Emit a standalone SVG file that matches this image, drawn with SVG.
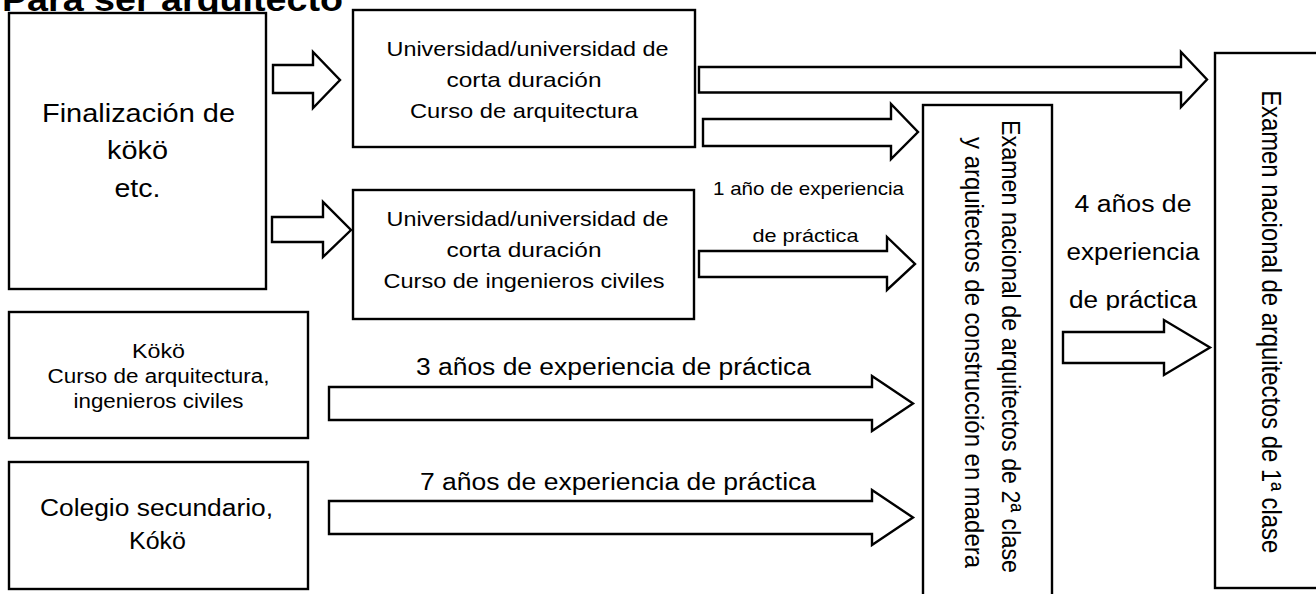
<svg xmlns="http://www.w3.org/2000/svg" width="1316" height="594" viewBox="0 0 1316 594">
<style>
.box{fill:#fff;stroke:#000;stroke-width:2.4}
.arr{fill:#fff;stroke:#000;stroke-width:2.4;stroke-linejoin:miter}
text{font-family:"Liberation Sans",Arial,sans-serif;fill:#000}
.c{text-anchor:middle}
</style>
<defs>
<clipPath id="clip4"><rect x="1040" y="180" width="200" height="130.5"/></clipPath>
</defs>
<rect width="1316" height="594" fill="#fff"/>
<text x="2" y="11" font-size="34" font-weight="bold" textLength="341" lengthAdjust="spacingAndGlyphs">Para ser arquitecto</text>

<g id="connectors">
<polygon class="arr" points="273,65 313,65 313,52 340,80 313,108 313,93 273,93"/>
<polygon class="arr" points="272,217 323,217 323,202 351,230 323,257 323,242 272,242"/>
<polygon class="arr" points="699,67 1181,67 1181,52 1207,79.5 1181,107 1181,92.5 699,92.5"/>
<polygon class="arr" points="703,119 891,119 891,104 918,132 891,159 891,146 703,146"/>
<polygon class="arr" points="699,251 887,251 887,237 915,264 887,290 887,277 699,277"/>
<polygon class="arr" points="329,387 872,387 872,376 913,403.5 872,431 872,420 329,420"/>
<polygon class="arr" points="329,501 872,501 872,490 913,517.5 872,545 872,534 329,534"/>
<polygon class="arr" points="1063,332 1164,332 1164,320 1210,347.5 1164,375 1164,363 1063,363"/>
<text class="c" x="808.5" y="195" font-size="18.5" textLength="191" lengthAdjust="spacingAndGlyphs">1 año de experiencia</text>
<text class="c" x="805.5" y="242" font-size="18.5" textLength="106" lengthAdjust="spacingAndGlyphs">de práctica</text>
<text class="c" x="613.5" y="375" font-size="23.5" textLength="395" lengthAdjust="spacingAndGlyphs">3 años de experiencia de práctica</text>
<text class="c" x="618" y="490" font-size="23.5" textLength="396" lengthAdjust="spacingAndGlyphs">7 años de experiencia de práctica</text>
<g clip-path="url(#clip4)">
<text class="c" x="1133" y="212" font-size="23.5" textLength="117" lengthAdjust="spacingAndGlyphs">4 años de</text>
<text class="c" x="1133" y="260" font-size="23.5" textLength="133" lengthAdjust="spacingAndGlyphs">experiencia</text>
<text class="c" x="1133" y="308" font-size="23.5" textLength="128" lengthAdjust="spacingAndGlyphs">de práctica</text>
</g>
</g>

<g id="node-finalizacion">
<rect class="box" x="9" y="13" width="257" height="276"/>
<text class="c" x="138.5" y="122" font-size="26" textLength="193" lengthAdjust="spacingAndGlyphs">Finalización de</text>
<text class="c" x="137.5" y="159" font-size="26" textLength="61" lengthAdjust="spacingAndGlyphs">kökö</text>
<text class="c" x="137.5" y="197" font-size="26" textLength="46" lengthAdjust="spacingAndGlyphs">etc.</text>
</g>

<g id="node-univ-arq">
<rect class="box" x="353" y="10" width="342" height="137"/>
<text class="c" x="527.5" y="56" font-size="21" textLength="282" lengthAdjust="spacingAndGlyphs">Universidad/universidad de</text>
<text class="c" x="524" y="87" font-size="21" textLength="155" lengthAdjust="spacingAndGlyphs">corta duración</text>
<text class="c" x="524" y="118" font-size="21" textLength="228" lengthAdjust="spacingAndGlyphs">Curso de arquitectura</text>
</g>

<g id="node-univ-civ">
<rect class="box" x="353" y="190" width="341" height="129"/>
<text class="c" x="527.5" y="226" font-size="21" textLength="282" lengthAdjust="spacingAndGlyphs">Universidad/universidad de</text>
<text class="c" x="524" y="257" font-size="21" textLength="155" lengthAdjust="spacingAndGlyphs">corta duración</text>
<text class="c" x="524" y="288" font-size="21" textLength="281" lengthAdjust="spacingAndGlyphs">Curso de ingenieros civiles</text>
</g>

<g id="node-koko">
<rect class="box" x="9" y="312" width="299" height="126"/>
<text class="c" x="158.5" y="358" font-size="20" textLength="53" lengthAdjust="spacingAndGlyphs">Kökö</text>
<text class="c" x="158.5" y="383" font-size="20" textLength="222" lengthAdjust="spacingAndGlyphs">Curso de arquitectura,</text>
<text class="c" x="158.5" y="408" font-size="20" textLength="170" lengthAdjust="spacingAndGlyphs">ingenieros civiles</text>
</g>

<g id="node-colegio">
<rect class="box" x="9" y="462" width="299" height="127"/>
<text class="c" x="156.5" y="516" font-size="23.5" textLength="233" lengthAdjust="spacingAndGlyphs">Colegio secundario,</text>
<text class="c" x="157.5" y="549" font-size="23.5" textLength="57" lengthAdjust="spacingAndGlyphs">Kókö</text>
</g>

<g id="node-exam2">
<rect class="box" x="923" y="105" width="129" height="500"/>
<text class="c" transform="translate(1002 346.5) scale(1.12 1) rotate(90)" x="0" y="0" font-size="23.5" textLength="453" lengthAdjust="spacingAndGlyphs">Examen nacional de arquitectos de 2ª clase</text>
<text class="c" transform="translate(965 352.5) scale(1.12 1) rotate(90)" x="0" y="0" font-size="23.5" textLength="431" lengthAdjust="spacingAndGlyphs">y arquitectos de construcción en madera</text>
</g>

<g id="node-exam1">
<rect class="box" x="1215" y="53" width="120" height="535"/>
<text class="c" transform="translate(1262 321.7) scale(1.12 1) rotate(90)" x="0" y="0" font-size="24" textLength="463" lengthAdjust="spacingAndGlyphs">Examen nacional de arquitectos de 1ª clase</text>
</g>
</svg>
